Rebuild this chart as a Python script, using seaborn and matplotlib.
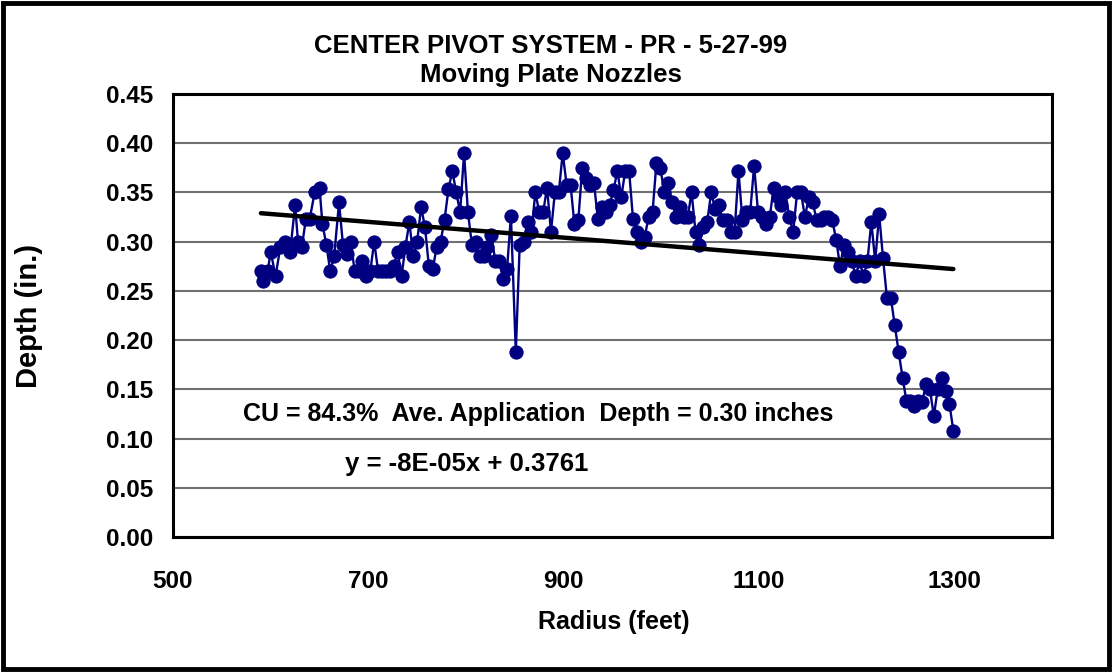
import numpy as np
import pandas as pd
import matplotlib
matplotlib.use("Agg")
import matplotlib.pyplot as plt
import seaborn as sns

radius = [590, 592, 597, 600, 605, 610, 615, 620, 625, 628, 632, 636, 640, 645, 650, 653, 657, 661,
          665, 670, 674, 678, 682, 686, 690, 694, 698, 702, 706, 710, 714, 718, 722, 726, 730, 734,
          738, 742, 746, 750, 754, 758, 762, 766, 770, 774, 778, 782, 786, 790, 794, 798, 802, 806,
          810, 814, 818, 822, 826, 830, 834, 838, 842, 846, 851, 855, 859, 863, 867, 871, 875, 879,
          883, 887, 891, 895, 899, 903, 907, 911, 915, 919, 923, 927, 931, 935, 939, 943, 947, 951,
          955, 959, 963, 967, 971, 975, 979, 983, 987, 991, 995, 999, 1003, 1007, 1011, 1015, 1019,
          1023, 1027, 1031, 1035, 1039, 1043, 1047, 1051, 1055, 1059, 1063, 1067, 1071, 1075, 1079,
          1083, 1087, 1091, 1095, 1099, 1103, 1107, 1111, 1115, 1119, 1123, 1127, 1131, 1135, 1139,
          1143, 1147, 1151, 1155, 1159, 1163, 1167, 1171, 1175, 1179, 1183, 1187, 1191, 1195, 1199,
          1203, 1207, 1211, 1215, 1219, 1223, 1227, 1231, 1235, 1239, 1243, 1247, 1251, 1255, 1259,
          1263, 1267, 1271, 1275, 1279, 1283, 1287, 1291, 1295, 1299]
depth = [0.270, 0.260, 0.270, 0.290, 0.265, 0.295, 0.300, 0.290, 0.337, 0.300, 0.295, 0.323, 0.323,
         0.350, 0.355, 0.318, 0.297, 0.270, 0.285, 0.340, 0.297, 0.287, 0.300, 0.270, 0.270, 0.280,
         0.265, 0.270, 0.300, 0.270, 0.270, 0.270, 0.270, 0.275, 0.290, 0.265, 0.295, 0.320, 0.285,
         0.300, 0.335, 0.315, 0.275, 0.272, 0.295, 0.300, 0.322, 0.353, 0.372, 0.350, 0.330, 0.390,
         0.330, 0.297, 0.300, 0.285, 0.285, 0.295, 0.307, 0.280, 0.280, 0.262, 0.272, 0.326, 0.188,
         0.297, 0.300, 0.320, 0.310, 0.350, 0.330, 0.330, 0.355, 0.310, 0.350, 0.350, 0.390, 0.358,
         0.358, 0.318, 0.322, 0.375, 0.365, 0.358, 0.360, 0.323, 0.335, 0.330, 0.337, 0.352, 0.372,
         0.345, 0.372, 0.372, 0.323, 0.310, 0.300, 0.305, 0.325, 0.330, 0.380, 0.375, 0.350, 0.360,
         0.340, 0.325, 0.335, 0.325, 0.325, 0.350, 0.310, 0.297, 0.315, 0.320, 0.350, 0.333, 0.337,
         0.322, 0.322, 0.310, 0.310, 0.372, 0.322, 0.330, 0.330, 0.377, 0.330, 0.325, 0.318, 0.325,
         0.355, 0.345, 0.337, 0.350, 0.325, 0.310, 0.350, 0.350, 0.325, 0.345, 0.340, 0.322, 0.322,
         0.325, 0.325, 0.322, 0.302, 0.275, 0.297, 0.290, 0.280, 0.265, 0.280, 0.265, 0.280, 0.320,
         0.280, 0.328, 0.283, 0.243, 0.243, 0.215, 0.188, 0.162, 0.138, 0.138, 0.133, 0.138, 0.137,
         0.155, 0.150, 0.123, 0.150, 0.162, 0.148, 0.135, 0.108]

slope = -8e-05
intercept = 0.3761
title_lines = ["CENTER PIVOT SYSTEM - PR - 5-27-99", "Moving Plate Nozzles"]
annot_cu = "CU = 84.3%  Ave. Application  Depth = 0.30 inches"
annot_eq = "y = -8E-05x + 0.3761"
x_ticks = [500, 700, 900, 1100, 1300]
y_ticks = [0.00, 0.05, 0.10, 0.15, 0.20, 0.25, 0.30, 0.35, 0.40, 0.45]

df = pd.DataFrame({"Radius": radius, "Depth": depth})
x_fit = np.array([min(radius), max(radius)])
fit_df = pd.DataFrame({"Radius": x_fit, "Depth": slope * x_fit + intercept})

sns.set_style("white")
plt.rcParams['font.family'] = ['Liberation Sans', 'DejaVu Sans']
plt.rcParams['text.color'] = 'black'
plt.rcParams['axes.labelcolor'] = 'black'
plt.rcParams['xtick.color'] = 'black'
plt.rcParams['ytick.color'] = 'black'

fig = plt.figure(figsize=(11.12, 6.72), dpi=100)
ax = fig.add_axes([173/1112, 1 - 537/672, (1052-173)/1112, (537-94)/672])

sns.lineplot(data=df, x="Radius", y="Depth", ax=ax, sort=False, color="#000080",
             linewidth=1.7, marker="o", markersize=9.5, markeredgecolor="#000080",
             markerfacecolor="#000080", zorder=3)
sns.lineplot(data=fit_df, x="Radius", y="Depth", ax=ax, color="black", linewidth=3.2, zorder=4)

ax.set_xlim(500, 1400)
ax.set_ylim(0, 0.45)
ax.set_xticks(x_ticks)
ax.set_yticks(y_ticks)
ax.set_yticklabels([f"{v:.2f}" for v in y_ticks])
ax.tick_params(axis="both", labelsize=17.5, length=0, colors="black")
ax.tick_params(axis="x", pad=24)
ax.tick_params(axis="y", pad=14)
for lab in ax.get_xticklabels() + ax.get_yticklabels():
    lab.set_fontweight("bold")
ax.grid(axis="y", color="#707070", linewidth=1.5)
ax.grid(axis="x", visible=False)
for s in ax.spines.values():
    s.set_color("black")
    s.set_linewidth(2.2)

ax.set_xlabel("Radius (feet)", fontsize=18, fontweight="bold", color="black")
ax.set_ylabel("Depth (in.)", fontsize=21, fontweight="bold", color="black")
ax.xaxis.set_label_coords((614-173)/879, -(610-537)/443)
ax.yaxis.set_label_coords(-(173-43)/879, 0.5)

fig.text(551/1112, 1 - 46/672, title_lines[0], ha="center", va="center",
         fontsize=18.5, fontweight="bold")
fig.text(551/1112, 1 - 75/672, title_lines[1], ha="center", va="center",
         fontsize=18.5, fontweight="bold")

ax.text((243-173)/879, 1 - (414-94)/443, annot_cu, transform=ax.transAxes, ha="left", va="center",
        fontsize=18, fontweight="bold")
ax.text((345-173)/879, 1 - (464-94)/443, annot_eq, transform=ax.transAxes, ha="left", va="center",
        fontsize=18.5, fontweight="bold")

border = plt.Rectangle((0.003, 0.004), 0.994, 0.992, transform=fig.transFigure,
                       fill=False, edgecolor="black", linewidth=3.5)
fig.patches.append(border)

fig.savefig("out.png", dpi=100)
